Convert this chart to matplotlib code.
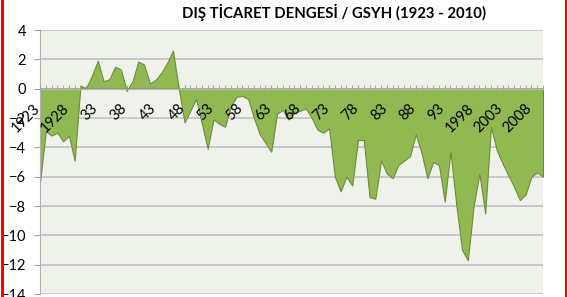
import matplotlib.pyplot as plt
import matplotlib.transforms as mtransforms
from matplotlib.lines import Line2D
import numpy as np

plt.rcParams['font.family'] = ['Lato', 'DejaVu Sans']

years = np.arange(1923, 2011)
balance = [
    -6.4, -2.9, -3.2, -3.0, -3.6, -3.2, -4.9, 0.2, 0.05, 0.9,      # 1923-1932
    1.9, 0.5, 0.65, 1.5, 1.3, -0.15, 0.5, 1.85, 1.65, 0.35,        # 1933-1942
    0.6, 1.1, 1.75, 2.6, 0.0, -2.3, -1.5, -0.7, -2.4, -4.1,        # 1943-1952
    -2.1, -2.4, -2.6, -1.2, -0.55, -0.5, -0.7, -2.0, -3.1, -3.7,   # 1953-1962
    -4.3, -1.7, -1.45, -2.1, -1.65, -1.5, -1.35, -2.0, -2.8, -3.0, # 1963-1972
    -2.7, -6.0, -7.0, -6.0, -6.6, -3.5, -3.5, -7.4, -7.5, -4.9,    # 1973-1982
    -5.8, -6.1, -5.2, -4.9, -4.6, -3.1, -4.4, -6.1, -5.0, -5.2,    # 1983-1992
    -7.7, -4.3, -7.9, -11.0, -11.7, -8.0, -5.8, -8.5, -2.6, -4.2,  # 1993-2002
    -5.1, -5.9, -6.7, -7.6, -7.2, -6.0, -5.7, -6.0,                # 2003-2010
]
label_years = [1923, 1928, 1933, 1938, 1943, 1948, 1953, 1958, 1963,
               1968, 1973, 1978, 1983, 1988, 1993, 1998, 2003, 2008]
label_texts = ['1923', '1928', '33', '38', '43', '48', '53', '58', '63',
               '68', '73', '78', '83', '88', '93', '1998', '2003', '2008']
yticks = [4, 2, 0, -2, -4, -6, -8, -10, -12, -14]

fig = plt.figure(figsize=(5.67, 2.97), dpi=100)
ax = fig.add_axes([40/567, 3/297, 503/567, 264/297])
ax.set_facecolor('#EFF1EB')

# gridlines under the area, axis (and its labels) above it
for v in yticks:
    ax.axhline(v, color='#C0C0C0', linewidth=1.2, zorder=1)
ax.fill_between(years, balance, 0, facecolor='#90B952', edgecolor='#6F8C3A',
                linewidth=0.8, zorder=2)

ax.set_xlim(1923, 2010)
ax.set_ylim(-14, 4)
ax.set_yticks(yticks)
ax.set_axisbelow(False)

for s in ['top', 'right']:
    ax.spines[s].set_visible(False)
ax.spines['left'].set_color('#B0B0B0')
ax.spines['bottom'].set_position(('data', 0))
ax.spines['bottom'].set_color('#B8B8B8')

ax.set_xticks(label_years)
ax.set_xticklabels(label_texts, rotation=45, ha='right')
ax.set_xticks(years, minor=True)
ax.tick_params(axis='x', which='both', direction='in', length=3, color='#A0A0A0',
               pad=9, labelsize=10.5)
ax.tick_params(axis='y', direction='out', length=4, color='#A0A0A0', pad=6,
               labelsize=10.5)

shift = mtransforms.ScaledTranslation(3/100, 0, fig.dpi_scale_trans)
for lbl in ax.get_xticklabels():
    lbl.set_transform(lbl.get_transform() + shift)

fig.text(0.589, 0.958, 'DIŞ TİCARET DENGESİ / GSYH (1923 - 2010)',
         ha='center', va='center', fontsize=10.7, fontweight='bold')

fig.add_artist(Line2D([1.5/567, 1.5/567], [0, 1], color='#FF0000', linewidth=2.2,
                      transform=fig.transFigure))
fig.add_artist(Line2D([565.5/567, 565.5/567], [0, 1], color='#FF0000', linewidth=2.2,
                      transform=fig.transFigure))

fig.savefig('out.png', dpi=100)
